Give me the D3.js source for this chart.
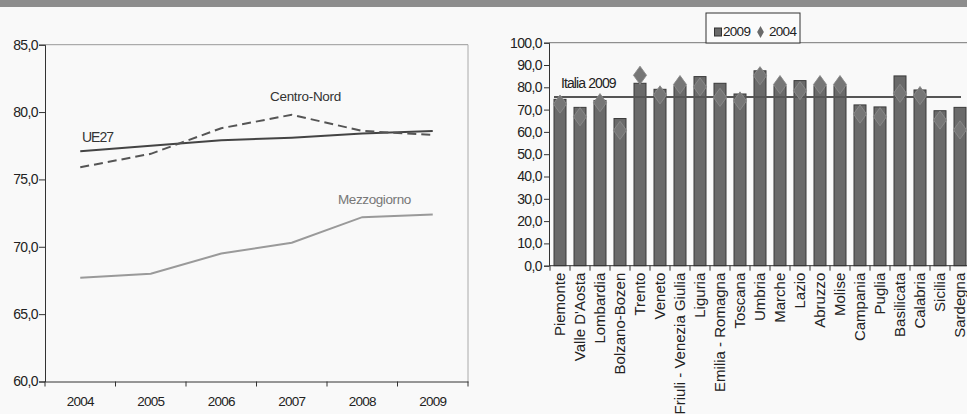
<!DOCTYPE html>
<html><head><meta charset="utf-8">
<script src="https://cdn.jsdelivr.net/npm/d3@7"></script>
<style>
html,body{margin:0;padding:0;background:#f9f9f9;}
svg{display:block;font-family:"Liberation Sans",Arial,sans-serif;}
</style></head><body>
<svg id="c" width="967" height="414"></svg>
<script>
// ---- Left chart data ----
const years = ["2004","2005","2006","2007","2008","2009"];
const ue27 = [77.1, 77.5, 77.9, 78.1, 78.4, 78.6];
const centroNord = [75.9, 76.9, 78.8, 79.8, 78.6, 78.3];
const mezzogiorno = [67.7, 68.0, 69.5, 70.3, 72.2, 72.4];
const leftTicks = [60, 65, 70, 75, 80, 85];

// ---- Right chart data ----
const regions = ["Piemonte","Valle D'Aosta","Lombardia","Bolzano-Bozen","Trento","Veneto",
  "Friuli - Venezia Giulia","Liguria","Emilia - Romagna","Toscana","Umbria","Marche","Lazio",
  "Abruzzo","Molise","Campania","Puglia","Basilicata","Calabria","Sicilia","Sardegna"];
const v2009 = [74.6, 71.0, 74.1, 66.0, 81.8, 79.1, 80.6, 84.8, 81.8, 77.0, 87.4, 80.6, 83.0,
  80.6, 80.6, 72.1, 71.2, 85.1, 78.8, 69.5, 71.0];
const v2004 = [72.5, 66.8, 73.1, 60.7, 85.4, 76.6, 81.2, 80.2, 75.5, 73.9, 85.2, 81.2, 78.5,
  81.2, 81.2, 68.0, 66.8, 77.3, 76.3, 65.3, 60.9];
const italia2009 = 75.7;
const rightTicks = [0,10,20,30,40,50,60,70,80,90,100];

const fmt = d => d3.format(".1f")(d).replace(".", ",");
const svg = d3.select("#c");

// top scan band
svg.append("rect").attr("x",0).attr("y",0).attr("width",967).attr("height",7).attr("fill","#8d8d8d");

// ================= LEFT =================
const xL = d3.scaleBand().domain(years).range([45, 468]);
const yL = d3.scaleLinear().domain([60, 85]).range([381.5, 44.7]);
const gL = svg.append("g");

// frame top & right
gL.append("line").attr("x1",45).attr("x2",468).attr("y1",yL(85)).attr("y2",yL(85)).attr("stroke","#999").attr("stroke-width",1);
gL.append("line").attr("x1",468).attr("x2",468).attr("y1",yL(85)).attr("y2",yL(60)).attr("stroke","#aaa").attr("stroke-width",1);

const yAxL = gL.append("g").attr("transform","translate(45,0)")
  .call(d3.axisLeft(yL).tickValues(leftTicks).tickFormat(fmt).tickSize(6).tickPadding(1));
yAxL.select(".domain").attr("stroke","#333");
yAxL.selectAll(".tick line").attr("stroke","#333");
yAxL.selectAll("text").attr("font-size",14).attr("fill","#222").attr("letter-spacing","-0.6");

const xAxL = gL.append("g").attr("transform",`translate(0,${yL(60)})`)
  .call(d3.axisBottom(xL).tickSize(0).tickPadding(15));
xAxL.select(".domain").attr("stroke","#333");
xAxL.selectAll("text").attr("font-size",13.5).attr("fill","#222").attr("letter-spacing","-0.7");
// band boundary ticks
gL.selectAll(".btick").data(years.concat(["end"])).enter().append("line")
  .attr("x1",(d,i)=> i<years.length ? xL(d) : xL(years[years.length-1])+xL.bandwidth())
  .attr("x2",(d,i)=> i<years.length ? xL(d) : xL(years[years.length-1])+xL.bandwidth())
  .attr("y1",yL(60)).attr("y2",yL(60)+5).attr("stroke","#333");

const lineL = vals => d3.line().x((d,i)=>xL(years[i])+xL.bandwidth()/2).y(d=>yL(d))(vals);
gL.append("path").attr("d",lineL(mezzogiorno)).attr("fill","none").attr("stroke","#9a9a9a").attr("stroke-width",2);
gL.append("path").attr("d",lineL(ue27)).attr("fill","none").attr("stroke","#444").attr("stroke-width",2);
gL.append("path").attr("d",lineL(centroNord)).attr("fill","none").attr("stroke","#555").attr("stroke-width",2).attr("stroke-dasharray","9,5");

gL.append("text").attr("x",82).attr("y",142).text("UE27").attr("font-size",14).attr("fill","#333").attr("letter-spacing","-1");
gL.append("text").attr("x",270).attr("y",101).text("Centro-Nord").attr("font-size",13.5).attr("fill","#333").attr("letter-spacing","-0.3");
gL.append("text").attr("x",338).attr("y",204).text("Mezzogiorno").attr("font-size",13.5).attr("fill","#777").attr("letter-spacing","-0.4");

// ================= RIGHT =================
const xR = d3.scaleBand().domain(regions).range([550, 970]).paddingInner(0.4).paddingOuter(0.2);
const yR = d3.scaleLinear().domain([0, 100]).range([265.7, 42.7]);
const gR = svg.append("g");
const step = xR.step(), bw = xR.bandwidth();

// top frame line
gR.append("line").attr("x1",549).attr("x2",967).attr("y1",yR(100)).attr("y2",yR(100)).attr("stroke","#777");

const yAxR = gR.append("g").attr("transform","translate(549,0)")
  .call(d3.axisLeft(yR).tickValues(rightTicks).tickFormat(fmt).tickSize(5).tickPadding(2));
yAxR.select(".domain").attr("stroke","#333");
yAxR.selectAll(".tick line").attr("stroke","#333");
yAxR.selectAll("text").attr("font-size",14).attr("fill","#222").attr("letter-spacing","-0.6");

// bars
gR.selectAll(".bar").data(regions).enter().append("rect")
  .attr("x",d=>xR(d)).attr("width",bw)
  .attr("y",(d,i)=>yR(v2009[i])).attr("height",(d,i)=>yR(0)-yR(v2009[i]))
  .attr("fill","#6a6a6a").attr("stroke","#3a3a3a").attr("stroke-width",1);

// Italia line
gR.append("line").attr("x1",xR(regions[0])).attr("x2",xR(regions[regions.length-1])+bw/2+1)
  .attr("y1",yR(italia2009)).attr("y2",yR(italia2009)).attr("stroke","#555").attr("stroke-width",2);

// diamonds
const dsym = d3.symbol().type(d3.symbolDiamond).size(95);
gR.selectAll(".dia").data(regions).enter().append("path")
  .attr("d",dsym)
  .attr("transform",(d,i)=>`translate(${xR(d)+bw/2},${yR(v2004[i])}) scale(1.25,1)`)
  .attr("fill","#767676").attr("stroke","#8a8a8a").attr("stroke-width",0.8);

// x axis
gR.append("line").attr("x1",549).attr("x2",967).attr("y1",yR(0)).attr("y2",yR(0)).attr("stroke","#333");
gR.selectAll(".xt").data(regions).enter().append("line")
  .attr("x1",d=>xR(d)+bw/2-step/2).attr("x2",d=>xR(d)+bw/2-step/2)
  .attr("y1",yR(0)).attr("y2",yR(0)+5).attr("stroke","#333");
gR.selectAll(".xl").data(regions).enter().append("text")
  .attr("transform",d=>`translate(${xR(d)+bw/2},${yR(0)+7}) rotate(-90)`)
  .attr("text-anchor","end").attr("dy","0.36em")
  .attr("font-size",15).attr("fill","#222").text(d=>d);

gR.append("text").attr("x",561).attr("y",88).text("Italia 2009").attr("font-size",14).attr("fill","#222").attr("letter-spacing","-0.9");

// legend
const lg = gR.append("g");
lg.append("rect").attr("x",706).attr("y",13).attr("width",94).attr("height",30).attr("fill","#fbfbfb").attr("stroke","#333");
lg.append("rect").attr("x",714.5).attr("y",28).attr("width",7).attr("height",8).attr("fill","#6a6a6a").attr("stroke","#333");
lg.append("text").attr("x",723).attr("y",36).text("2009").attr("font-size",13.5).attr("fill","#222").attr("letter-spacing","-0.7");
lg.append("path").attr("d",d3.symbol().type(d3.symbolDiamond).size(40)).attr("transform","translate(760.5,32)").attr("fill","#6a6a6a");
lg.append("text").attr("x",769).attr("y",36).text("2004").attr("font-size",13.5).attr("fill","#222").attr("letter-spacing","-0.7");
</script>
</body></html>
